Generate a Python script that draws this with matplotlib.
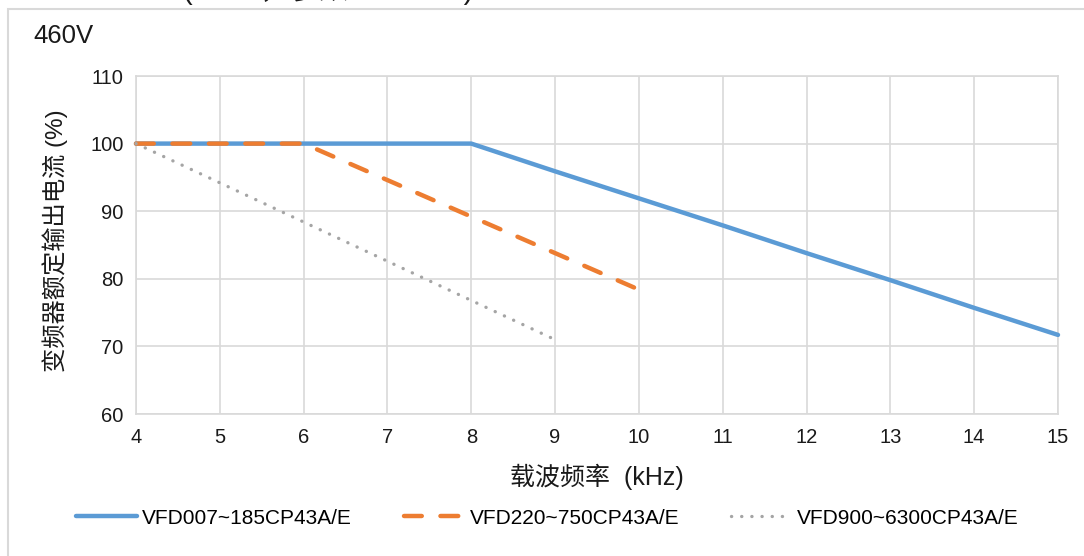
import matplotlib
matplotlib.use('Agg')
import matplotlib.pyplot as plt
from matplotlib.patches import Rectangle

plt.rcParams['font.family'] = ['Liberation Sans', 'Noto Sans CJK SC', 'DejaVu Sans']

# ---- data ----
freq_a = [4, 5, 6, 7, 8, 9, 10, 11, 12, 13, 14, 15]
curr_a = [100, 100, 100, 100, 100, 95.9, 91.9, 87.9, 83.8, 79.8, 75.7, 71.7]
freq_b = [4, 5, 6, 7, 8, 9, 10]
curr_b = [100, 100, 100, 94.6, 89.2, 83.8, 78.4]
freq_c = [4, 5, 6, 7, 8, 9]
curr_c = [100, 94.2, 88.4, 82.6, 76.8, 71.0]
labels = ['VFD007~185CP43A/E', 'VFD220~750CP43A/E', 'VFD900~6300CP43A/E']
x_ticks = list(range(4, 16))
y_ticks = list(range(60, 111, 10))

W, H = 1084, 556
fig = plt.figure(figsize=(W / 100, H / 100), dpi=100)
ax = fig.add_axes([136 / W, 1 - 414 / H, (1058 - 136) / W, (414 - 76) / H])

# outer frame
fig.add_artist(Rectangle((8 / W, -0.5), 2, 1 - 9 / H + 0.5, transform=fig.transFigure,
                         fill=False, ec='#d9d9d9', lw=1.5))

grid_c = '#d9d9d9'
ax.set_xlim(4, 15)
ax.set_ylim(60, 110)
ax.set_xticks(x_ticks)
ax.set_yticks(y_ticks)
ax.grid(True, color=grid_c, lw=1.2)
ax.set_axisbelow(True)
for s in ax.spines.values():
    s.set_color(grid_c)
    s.set_linewidth(1.2)
ax.tick_params(length=0, labelsize=14.5, colors='#1a1a1a')
ax.tick_params(axis='x', pad=10)
ax.tick_params(axis='y', pad=9)

blue = '#5B9BD5'
orange = '#ED7D31'
grey = '#A5A5A5'

l1, = ax.plot(freq_a, curr_a, color=blue, lw=3.2, solid_capstyle='round', clip_on=False, zorder=3)
l2, = ax.plot(freq_b, curr_b, color=orange, lw=3.2, linestyle=(0, (4.0, 4.2)),
              dash_capstyle='round', clip_on=False, zorder=4)
l3, = ax.plot(freq_c, curr_c, color=grey, lw=2.4, linestyle=(0, (0.05, 3.0)),
              dash_capstyle='round', clip_on=False, zorder=5)

fig.legend([l1, l2, l3], labels, loc='center', bbox_to_anchor=(0.505, 1 - 518 / H),
           ncol=3, frameon=False, fontsize=15, handlelength=2.9, columnspacing=2.5,
           handletextpad=0.25)

fig.text(55 / W, 1 - 241 / H, '变频器额定输出电流 (%)', rotation=90, ha='center', va='center',
         fontsize=17.5, color='#1a1a1a')
fig.text(597 / W, 1 - 477 / H, '载波频率  (kHz)', ha='center', va='center',
         fontsize=18, color='#1a1a1a')
fig.text(33 / W, 1 - 36 / H, '460V', ha='left', va='center', fontsize=18.5, color='#1a1a1a')
fig.text(183 / W, 1 + 1 / H, '(460V，参数 06-55=0)', ha='left', va='baseline', fontsize=21,
         color='#1a1a1a')

fig.savefig('out.png', dpi=100)
